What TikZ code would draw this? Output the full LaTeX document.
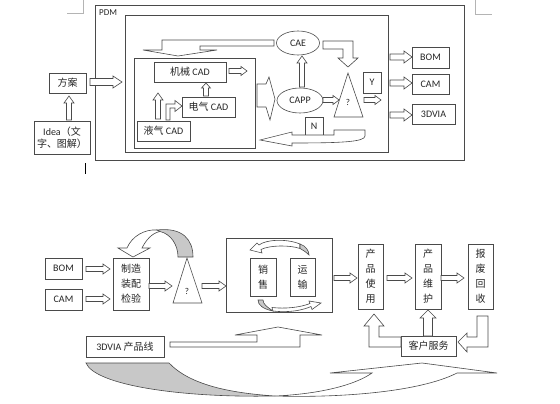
\documentclass[tikz,border=0pt]{standalone}
\usepackage{fontspec}
\setmainfont{Carlito}
\newfontfamily\cjk{Noto Sans CJK SC}
\usetikzlibrary{shapes.geometric}
\definecolor{lc}{HTML}{4A4A4A}
\definecolor{shade}{HTML}{C8C8C8}
\definecolor{pagemark}{HTML}{B4B4B4}
\tikzset{
 box/.style={draw=lc, fill=white, line width=0.6pt, inner sep=1pt, font=\fontsize{10}{12}\selectfont, text=black!85},
 oval/.style={box, ellipse, inner sep=0pt},
 blk/.style={draw=lc, fill=white, line width=0.6pt, line join=miter},
 gshade/.style={draw=lc, fill=shade, line width=0.6pt},
 lbl/.style={inner sep=0pt, font=\fontsize{9}{11}\selectfont, text=black!85},
 vtxt/.style={box, align=center, font={\cjk\fontsize{10}{15}\selectfont}},
}
\newcommand\blkR[6]{\draw[blk] (#1,#3-#4) -- (#2-#6,#3-#4) -- (#2-#6,#3-#5) -- (#2,#3) -- (#2-#6,#3+#5) -- (#2-#6,#3+#4) -- (#1,#3+#4) -- cycle;}
\newcommand\blkU[6]{\draw[blk] (#1-#4,#2) -- (#1-#4,#3+#6) -- (#1-#5,#3+#6) -- (#1,#3) -- (#1+#5,#3+#6) -- (#1+#4,#3+#6) -- (#1+#4,#2) -- cycle;}
\begin{document}
\begin{tikzpicture}[x=1pt,y=-1pt]
\useasboundingbox (0,0) rectangle (560,404);
% page marks and cursor
\draw[pagemark, line width=0.5pt] (67,13) -- (83,13) -- (83,0);
\draw[pagemark, line width=0.5pt] (475,0) -- (475,14) -- (492,14);
\draw[black, line width=0.6pt] (85,163) -- (85,174);

% ===== top diagram =====
\node[box, minimum width=369pt, minimum height=155pt] (pdm) at (279.5,82.5) {};
\node[lbl, anchor=west] (pdmlbl) at (99,13) {PDM};
\node[box, minimum width=263pt, minimum height=137pt] (inner) at (256.5,83.5) {};
\node[box, minimum width=121pt, minimum height=90pt] (cadgrp) at (194.5,103) {};

\node[box, minimum width=72pt, minimum height=20pt] (jixie) at (190,72) {{\cjk 机械} CAD};
\node[box, minimum width=53pt, minimum height=20pt] (dianqi) at (208.5,107) {{\cjk 电气} CAD};
\node[box, minimum width=53pt, minimum height=20pt] (yeqi) at (163.5,131) {{\cjk 液气} CAD};

\node[box, minimum width=37pt, minimum height=20pt] (fangan) at (67.5,83) {\cjk 方案};
\node[box, minimum width=56pt, minimum height=33pt, align=center] (idea) at (62,137.5) {Idea{\cjk （文}\\{\cjk 字、图解）}};

\node[oval, minimum width=43pt, minimum height=24pt] (cae) at (298,43) {CAE};
\node[oval, minimum width=46pt, minimum height=25pt] (capp) at (300,100.5) {CAPP};

\draw[blk] (348,73) -- (363,117) -- (334,117) -- cycle;
\node[lbl] (q1) at (348,102) {?};

\node[box, minimum width=18pt, minimum height=21pt] (ybox) at (372,82.5) {Y};
\node[box, minimum width=18pt, minimum height=18pt] (nbox) at (314,126) {N};

\node[box, minimum width=37pt, minimum height=21pt] (bom) at (430.5,57.5) {BOM};
\node[box, minimum width=37pt, minimum height=20pt] (cam) at (430.5,84) {CAM};
\node[box, minimum width=43pt, minimum height=20pt] (via) at (433.5,114) {3DVIA};

% top arrows
\blkU{69}{120}{96}{2.5}{5}{7}
\blkR{90}{122}{82}{3.5}{6}{9}
\blkR{229}{247}{71}{2.5}{4.5}{6}
\blkU{206}{96}{83}{2.5}{4.5}{5}
\blkU{158}{119}{93}{2.5}{5}{7}
\draw[blk] (166,120) -- (166,104) -- (175,104) -- (175,100.5) -- (182,106) -- (175,111.5) -- (175,108) -- (170,108) -- (170,120) -- cycle;
\draw[blk] (274,40) -- (162,40) -- (162,50) -- (143,50) -- (178,56) -- (217,50) -- (200,50) -- (200,46) -- (274,46) -- cycle;
\blkU{302}{87}{56}{2.5}{5}{7}
\draw[blk] (323,41) -- (353,41) -- (353,58) -- (358,58) -- (348,67) -- (338,58) -- (343,58) -- (343,49) -- (323,49) -- cycle;
\blkR{323}{339}{100}{2.5}{4.5}{6}
\blkR{364}{381}{100}{2.5}{4.5}{6}
\draw[blk] (257,84) -- (266,84) -- (269,77) -- (275,99) -- (270,120) -- (266,107) -- (257,107) -- cycle;
\draw[blk] (365,130) -- (334,130) -- (334,135) -- (292,135) -- (292,132) -- (260,140) -- (292,146) -- (292,143) .. controls (340,143) and (365,142) .. (365,136) -- cycle;
\blkR{390}{412}{57}{3}{6}{8}
\blkR{390}{412}{83}{3}{6}{8}
\blkR{390}{412}{115}{3}{6}{8}

% ===== bottom diagram =====
\node[box, minimum width=37pt, minimum height=21pt] (bom2) at (63.5,268.5) {BOM};
\node[box, minimum width=37pt, minimum height=21pt] (cam2) at (63.5,299.5) {CAM};
\node[vtxt, minimum width=36pt, minimum height=52pt] (make) at (131,284) {制造\\装配\\检验};
\draw[blk] (187,258) -- (202,303) -- (173,303) -- cycle;
\node[lbl] (q2) at (187,291) {?};
\node[box, minimum width=106pt, minimum height=74pt] (grp) at (279,275) {};
\node[vtxt, minimum width=26pt, minimum height=38pt] (sale) at (263,277) {销\\售};
\node[vtxt, minimum width=25pt, minimum height=38pt] (ship) at (302.5,277) {运\\输};
\node[vtxt, minimum width=25pt, minimum height=65pt] (use) at (370.5,276.5) {产\\品\\使\\用};
\node[vtxt, minimum width=26pt, minimum height=65pt] (maint) at (428,276.5) {产\\品\\维\\护};
\node[vtxt, minimum width=25pt, minimum height=65pt] (recyc) at (480.5,276.5) {报\\废\\回\\收};
\node[box, minimum width=55pt, minimum height=20pt, font={\cjk\fontsize{10}{12}\selectfont}] (serv) at (428.5,346) {客户服务};
\node[box, minimum width=78pt, minimum height=21pt] (line3d) at (125,346.5) {3DVIA {\cjk 产品线}};

\blkR{86}{110}{269}{2.5}{5}{7}
\blkR{86}{110}{299}{2.5}{5}{7}
\blkR{149}{172}{286}{2.5}{5}{7}
\blkR{202}{226}{286}{2.5}{5}{7}
\blkR{334}{357}{278}{2.5}{5}{7}
\blkR{387}{412}{278}{2.5}{5}{7}
\blkR{441}{464}{278}{2.5}{5}{7}
\blkU{428}{336}{310}{4.5}{8}{8}
\draw[blk] (401,337) -- (379,337) -- (379,326) -- (384,326) -- (374,314) -- (364,326) -- (369,326) -- (369,347) -- (401,347) -- cycle;
\draw[blk] (477,316) -- (488,316) -- (488,347) -- (467,347) -- (467,352) -- (458,342) -- (467,333) -- (467,337) -- (477,337) -- cycle;
\draw[blk] (170,342) -- (257,342) -- (257,335) -- (235,335) -- (278,327) -- (322,335) -- (300,335) -- (300,347) -- (170,347) -- cycle;

% loop arrow from decision back to manufacturing
\draw[blk] (157,230) .. controls (145,229) and (132,236) .. (127,248) -- (118,248) -- (133,257) -- (150,248) -- (142,248) .. controls (146,240) and (152,233) .. (160,231.5) -- cycle;
\draw[gshade] (157,230) .. controls (183,227) and (193,240) .. (193,257) -- (178,257) .. controls (178,245) and (171,234) .. (160,231.5) -- cycle;

% cycle arrows in sales/shipping box
\draw[blk] (300,244) .. controls (285,238) and (265,240) .. (259,245) -- (257,243) -- (250,250) -- (262,253) -- (261,249.5) .. controls (270,245) and (290,245) .. (300,248.5) -- cycle;
\draw[gshade] (300,244) .. controls (306,246) and (309,251) .. (309,255) .. controls (306,252) and (303,250) .. (300,248.5) -- cycle;
\draw[gshade] (258,300) .. controls (258,305) and (263,309) .. (273,311) .. controls (267,307) and (263,304) .. (263,300) -- cycle;
\draw[blk] (273,311) .. controls (290,313) and (303,310) .. (311,306.5) -- (312,309.5) -- (321,303) -- (309,301) -- (310,303.5) .. controls (300,307.5) and (285,309) .. (272,307.5) -- cycle;

% big bottom curved arrow
\draw[gshade] (86,363) -- (169,363) .. controls (190,385) and (230,393) .. (275,396) .. controls (180,398) and (95,385) .. (86,363) -- cycle;
\draw[blk] (275,396) .. controls (320,394) and (355,385) .. (372,373) -- (330,373) -- (422,363) -- (497,373) -- (457,373) .. controls (420,392) and (340,398) .. (275,396) -- cycle;
\end{tikzpicture}
\end{document}
